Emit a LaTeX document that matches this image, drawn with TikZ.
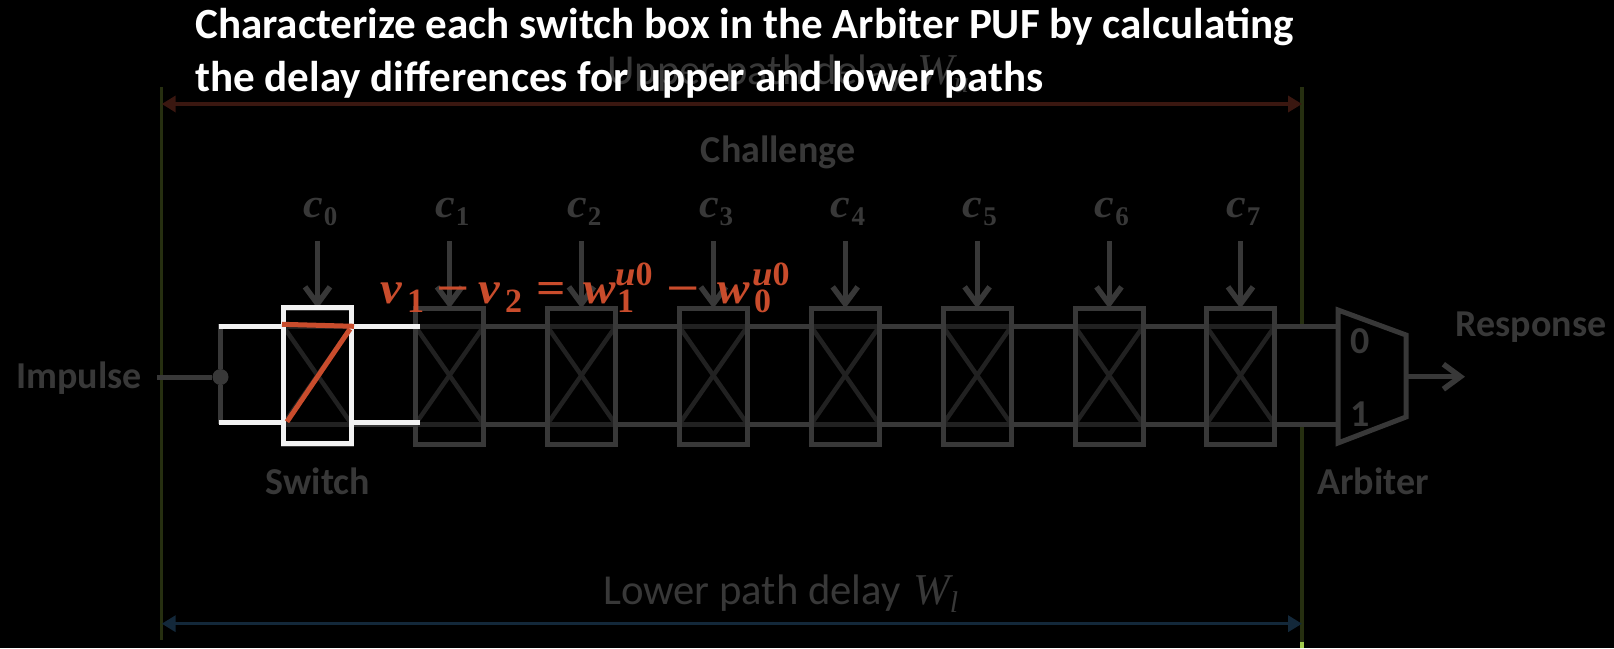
\documentclass[tikz,border=0pt]{standalone}
\usepackage{graphicx}
\usepackage{fontspec}
\setmainfont{Carlito}
\newfontfamily\fmit[FakeStretch=1.08]{Liberation Serif}
\newfontfamily\fmup{Liberation Serif}
\usetikzlibrary{arrows.meta}
\newcommand{\fbi}{\fmit\bfseries\itshape}
\newcommand{\fbu}{\fmup\bfseries\upshape}
\newcommand{\fli}{\fmup\mdseries\itshape}
\newcommand{\mbig}[1]{{\fontsize{45}{50}\fbi #1}}
\newcommand{\mbigup}[2]{\scalebox{#1}[1]{\fontsize{45}{50}\fbu #2}}
\newcommand{\msmallit}[1]{{\fontsize{34}{40}\fbi #1}}
\newcommand{\msmall}[1]{{\fontsize{34}{40}\fbu #1}}
\newcommand{\pc}[2]{\makebox[#1pt][l]{#2}}
\newcommand{\supsub}[2]{\rlap{\raisebox{18pt}{\msmallit{u}\msmall{0}}}\hspace{2pt}\raisebox{-9.5pt}{\msmall{#2}}}
\definecolor{gy}{HTML}{383838}
\definecolor{gyd}{HTML}{212121}
\definecolor{rd}{HTML}{C94C2C}
\definecolor{wt}{HTML}{F2F2F2}
\definecolor{gn}{HTML}{262F10}
\definecolor{gnb}{HTML}{A2CB4E}
\definecolor{ua}{HTML}{3A1710}
\definecolor{la}{HTML}{13283A}
\tikzset{
  swbox/.style={draw=gy,line width=5pt,minimum width=68pt,minimum height=136pt,inner sep=0pt,outer sep=0pt},
  wire/.style={draw=gy,line width=5pt},
  inner/.style={draw=gyd,line width=5pt},
  hot/.style={draw=wt,line width=5pt},
  red/.style={draw=rd,line width=5pt},
  vbar/.style={draw=gn,line width=3.5pt},
  arr/.style={wire,-{Straight Barb[length=17pt,width=25pt,line width=5.5pt]}},
  lab/.style={text=gy,font=\fontsize{38}{42}\selectfont\bfseries,inner sep=0pt,anchor=base},
  clab/.style={text=gy,inner sep=0pt,anchor=base west},
  dim/.style={text=gy,font=\fontsize{42.7}{46}\selectfont,inner sep=0pt,anchor=base west},
  title/.style={text=white,font=\fontsize{43.1}{52}\selectfont\bfseries,inner sep=0pt,anchor=base west},
}
\begin{document}
\begin{tikzpicture}[x=1pt,y=-1pt]
\fill[black] (0,0) rectangle (1614,648);
\useasboundingbox (0,0) rectangle (1614,648);
% vertical bars
\coordinate (lt) at (161.7,87); \coordinate (lb) at (161.7,640);
\coordinate (rt) at (1302,87); \coordinate (rm) at (1302,326.7);
\coordinate (rn) at (1302,424); \coordinate (rb) at (1302,642); \coordinate (re) at (1302,648);
\draw[vbar] (lt) -- (lb);
\draw[vbar] (rt) -- (rm);
\draw[vbar] (rn) -- (rb);
\draw[draw=gnb,line width=3.5pt] (rb) -- (re);
% delay dimension arrows
\draw[draw=ua,line width=3.5pt,{Triangle[length=14pt,width=16pt]}-{Triangle[length=14pt,width=16pt]}] (lt |- 0,104) -- (rt |- 0,104);
\draw[draw=la,line width=3.5pt,{Triangle[length=14pt,width=16pt]}-{Triangle[length=14pt,width=16pt]}] (lt |- 0,623.7) -- (rt |- 0,623.7);
\node[dim] (up) at (607,84) {\pc{310}{Upper path delay}{\fontsize{44}{46}\fli W}\raisebox{-8pt}{\fontsize{30}{32}\fli u}};
\node[dim] (lo) at (603,604.5) {\pc{310}{Lower path delay}{\fontsize{44}{46}\fli W}\raisebox{-8pt}{\fontsize{30}{32}\fli l}};
\node[lab] (ch) at (778,162) {Challenge};
% rails
\coordinate (upy) at (0,326.7);
\coordinate (loy) at (0,424);
% switch boxes, challenge labels and arrows
\foreach \i/\x in {0/317.5,1/449.5,2/581.4,3/713.3,4/845.2,5/977.1,6/1109,7/1240.5}{
  \node[swbox] (b\i) at (\x,376.5) {};
  \node[clab] (c\i) at (\x-14.5,217) {\fontsize{41}{46}\fbi c\hspace{1pt}\raisebox{-8pt}{\fontsize{27}{30}\fbu \i}};
  \coordinate (ca\i) at (\x,241);
  \draw[arr] (ca\i) -- (b\i.north);
  \draw[inner] (b\i.west |- upy) -- (b\i.east |- upy);
  \draw[inner] (b\i.west |- loy) -- (b\i.east |- loy);
  \draw[inner,line width=4.5pt] (b\i.west |- upy) -- (b\i.east |- loy);
  \draw[inner,line width=4.5pt] (b\i.west |- loy) -- (b\i.east |- upy);
}
\foreach \i/\j in {0/1,1/2,2/3,3/4,4/5,5/6,6/7}{
  \draw[wire] (b\i.east |- upy) -- (b\j.west |- upy);
  \draw[wire] (b\i.east |- loy) -- (b\j.west |- loy);
}
\foreach \i in {1,...,7}{
  \draw[draw=gy,line width=5pt] (b\i.south west) rectangle (b\i.north east);
}
% arbiter
\coordinate (m1) at (1338,310);
\coordinate (m2) at (1406,335);
\coordinate (m3) at (1406,417);
\coordinate (m4) at (1338,443);
\draw[wire] (b7.east |- upy) -- (m1 |- upy);
\draw[wire] (b7.east |- loy) -- (m1 |- loy);
\draw[wire,line join=miter] (m1) -- (m2) -- (m3) -- (m4) -- cycle;
\node[lab] (z) at (1360,353) {0};
\node[lab] (o) at (1360,426) {1};
\coordinate (mo) at (1406,376.7);
\coordinate (ro) at (1465,376.7);
\draw[arr] (mo) -- (ro);
\node[lab] (resp) at (1531,336) {Response};
\node[lab] (arb) at (1373,494) {Arbiter};
% impulse
\node[lab] (imp) at (79,388) {Impulse};
\coordinate (is) at (157,377);
\node[circle,fill=gy,minimum size=16pt,inner sep=0pt] (jn) at (220.5,377) {};
\draw[wire] (is) -- (jn);
\coordinate (ju) at (220.5,324); \coordinate (jl) at (220.5,424);
\draw[wire] (ju) -- (jn) -- (jl);
\node[lab] (sw) at (318,494) {Switch};
% highlighted switch
\node[swbox,draw=wt,line width=5pt,minimum height=136pt] (hb) at (317.8,375.5) {};
\coordinate (hu) at (0,326); \coordinate (hl) at (0,422);
\draw[hot] (ju |- hu) ++(-2,0) -- (hb.west |- hu);
\draw[hot] (jl |- hl) ++(-2,0) -- (hb.west |- hl);
\draw[hot] (hb.east |- hu) -- (b1.west |- hu) -- ++(4,0);
\draw[hot] ([xshift=-3pt]hb.east |- hl) -- (b1.west |- hl) -- ++(4,0);
\coordinate (r1) at (282,324.3); \coordinate (r2) at (354,326.3);
\coordinate (r3) at (350,329); \coordinate (r4) at (287,421.7);
\draw[red] (r1) -- (r2);
\draw[red] (r3) -- (r4);
% formula and title
\node[text=rd,inner sep=0pt,anchor=base west] (eq) at (380,303) {%
\pc{27}{\mbig{v}}\pc{29}{\raisebox{-9.5pt}{\msmall{1}}}\pc{42}{\mbigup{1.3}{−}}%
\pc{27}{\mbig{v}}\pc{31}{\raisebox{-9.5pt}{\msmall{2}}}\pc{47}{\mbigup{1.15}{=}}%
\pc{32}{\mbig{w}}\pc{51}{\supsub{u0}{1}}\pc{51}{\mbigup{1.3}{−}}%
\pc{35}{\mbig{w}}\supsub{u0}{0}};
\node[title] (t1) at (195,38) {Characterize each switch box in the Arbiter PUF by calculating};
\node[title] (t2) at (195,91.5) {the delay differences for upper and lower paths};
\end{tikzpicture}
\end{document}
